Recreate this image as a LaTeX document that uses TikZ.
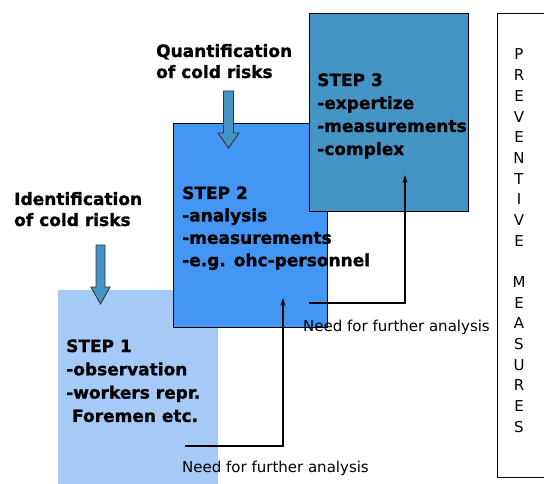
\documentclass[tikz,border=0pt]{standalone}
\usepackage{fontspec}
\setmainfont{DejaVu Sans}[BoldFeatures={FakeBold=1.2}]
\usetikzlibrary{arrows.meta}
\definecolor{stepone}{HTML}{A6CAF8}
\definecolor{steptwo}{HTML}{4496F4}
\definecolor{stepthree}{HTML}{4495C6}
\definecolor{arrowfill}{HTML}{4495C6}
\newcommand\ctrl[1]{\hbox to 0pt{\hss#1\hss}}
\tikzset{
  boxtext/.style={anchor=base west, inner sep=0pt, font=\fontsize{17}{#1}\selectfont\bfseries},
  note/.style={anchor=base west, inner sep=0pt, font=\fontsize{15}{18}\selectfont},
  stepbox/.style={anchor=north west, inner sep=0pt, draw=black, line width=1.2pt},
  link/.style={draw=black, line width=1.1pt, -{Stealth[length=8pt,width=5pt]}},
  bigarrow/.style={fill=arrowfill, draw=black!80, line width=0.9pt, line join=miter},
}
\begin{document}
\begin{tikzpicture}[x=1pt,y=-1pt]
\useasboundingbox (0,0) rectangle (544,484);
% boxes
\node[anchor=north west, inner sep=0pt, fill=stepone, minimum width=160pt, minimum height=194pt] (s1) at (58,290) {};
\node[stepbox, fill=steptwo, minimum width=154pt, minimum height=204pt] (s2) at (173,123) {};
\node[stepbox, fill=stepthree, minimum width=159pt, minimum height=198pt] (s3) at (309,13) {};
\node[stepbox, fill=white, minimum width=50pt, minimum height=464pt] (pm) at (497,13) {};
% big arrows
\draw[bigarrow] (96,245) -- (105,245) -- (105,287) -- (110,287) -- (100.5,304) -- (91,287) -- (96,287) -- cycle;
\draw[bigarrow] (223.5,91) -- (233.5,91) -- (233.5,133) -- (239,133) -- (228.5,148) -- (218,133) -- (223.5,133) -- cycle;
% headings
\node[boxtext=21pt] (ident) at (14,205) {\vtop{\hbox{Identification}\hbox{of cold risks}}};
\node[boxtext=21pt] (quant) at (156,57) {\vtop{\hbox{Quantification}\hbox{of cold risks}}};
% step texts
\node[boxtext=23.3pt] (t1) at (66,352) {\vtop{\hbox{STEP 1}\hbox{-observation}\hbox{-workers repr.}\hbox{\ Foremen etc.}}};
\node[boxtext=22.4pt] (t2) at (182,199) {\vtop{\hbox{STEP 2}\hbox{-analysis}\hbox{-measurements}\hbox{-e.g. ohc-personnel}}};
\node[boxtext=23pt] (t3) at (317,86) {\vtop{\hbox{STEP 3}\hbox{-expertize}\hbox{-measurements}\hbox{-complex}}};
% connectors
\coordinate (a1) at (185,446);
\coordinate (b1) at (283,298);
\coordinate (a2) at (309,303);
\coordinate (b2) at (405,175);
\draw[link] (a1) -| (b1);
\draw[link] (a2) -| (b2);
\node[note] (n1) at (182,472) {Need for further analysis};
\node[note] (n2) at (303,331) {Need for further analysis};
% preventive measures
\node[anchor=base, inner sep=0pt, font=\fontsize{15}{20.67}\selectfont] (pmtext) at (519,60)
 {\vtop{\ctrl{P}\ctrl{R}\ctrl{E}\ctrl{V}\ctrl{E}\ctrl{N}\ctrl{T}\ctrl{I}\ctrl{V}\ctrl{E}\ctrl{}\ctrl{M}\ctrl{E}\ctrl{A}\ctrl{S}\ctrl{U}\ctrl{R}\ctrl{E}\ctrl{S}}};
\end{tikzpicture}
\end{document}
